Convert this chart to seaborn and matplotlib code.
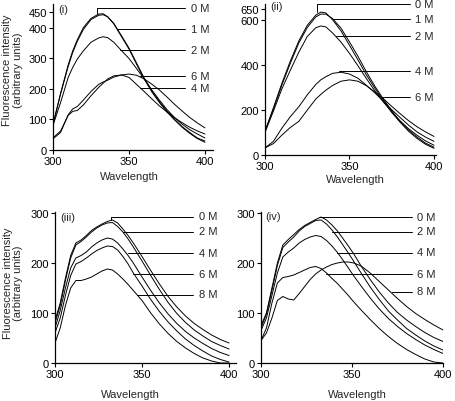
import matplotlib
matplotlib.use("Agg")
import matplotlib.pyplot as plt
import pandas as pd
import seaborn as sns

# panel (i)
wl_i = [300, 305, 310, 313, 316, 320, 325, 330, 333, 336, 340, 345, 350, 355, 360, 365, 370, 375, 380, 385, 390, 395, 400]
i_0M = [82, 185, 278, 324, 360, 400, 430, 444, 445, 435, 412, 371, 330, 280, 232, 190, 155, 124, 98, 74, 54, 37, 25]
i_1M = [84, 183, 273, 319, 355, 394, 426, 440, 442, 435, 414, 374, 333, 284, 235, 194, 158, 127, 100, 76, 57, 39, 29]
i_2M = [80, 155, 237, 270, 297, 324, 352, 366, 370, 367, 352, 325, 299, 266, 232, 196, 163, 132, 106, 84, 66, 52, 39]
i_4M = [39, 62, 113, 126, 129, 147, 177, 204, 218, 232, 242, 245, 237, 214, 191, 167, 144, 124, 105, 89, 74, 62, 52]
i_6M = [36, 57, 115, 134, 142, 163, 191, 214, 222, 228, 238, 245, 248, 244, 232, 215, 196, 173, 149, 127, 106, 88, 72]

# panel (ii)
wl_ii = [300, 305, 310, 315, 320, 325, 330, 333, 336, 340, 345, 350, 355, 360, 365, 370, 375, 380, 385, 390, 395, 400]
ii_0M = [104, 209, 318, 417, 506, 576, 621, 635, 631, 601, 551, 487, 422, 355, 296, 241, 188, 144, 104, 72, 46, 28]
ii_1M = [104, 204, 310, 407, 497, 566, 613, 626, 626, 606, 563, 502, 438, 369, 305, 248, 195, 148, 109, 78, 51, 33]
ii_2M = [99, 194, 293, 376, 456, 526, 565, 573, 569, 542, 501, 451, 396, 339, 284, 235, 190, 150, 115, 86, 61, 42]
ii_4M = [30, 59, 118, 169, 213, 266, 312, 333, 347, 362, 367, 359, 340, 309, 275, 238, 200, 165, 131, 101, 78, 59]
ii_6M = [30, 49, 87, 121, 148, 198, 247, 268, 287, 308, 327, 333, 327, 307, 279, 249, 215, 182, 151, 124, 101, 81]

# panel (iii)
wl_iii = [300, 303, 306, 309, 312, 315, 318, 321, 324, 327, 330, 333, 336, 339, 342, 345, 350, 355, 360, 365, 370, 375, 380, 385, 390, 395, 400]
iii_0M = [85, 120, 170, 215, 240, 246, 255, 265, 272, 278, 283, 286, 280, 268, 255, 240, 213, 185, 158, 133, 112, 94, 79, 67, 56, 47, 40]
iii_2M = [80, 115, 165, 210, 236, 243, 252, 262, 270, 276, 280, 281, 273, 262, 248, 232, 204, 175, 147, 121, 99, 81, 66, 54, 43, 35, 28]
iii_4M = [70, 105, 150, 190, 210, 215, 222, 232, 240, 246, 250, 248, 240, 228, 215, 200, 172, 145, 120, 98, 79, 63, 50, 39, 29, 21, 15]
iii_6M = [60, 90, 135, 175, 198, 203, 210, 218, 225, 230, 234, 233, 226, 213, 198, 180, 154, 127, 103, 82, 64, 48, 35, 24, 14, 7, 2]
iii_8M = [40, 70, 115, 150, 165, 165, 168, 172, 178, 184, 188, 186, 178, 168, 157, 145, 125, 100, 78, 59, 43, 30, 19, 10, 4, 0, 0]

# panel (iv)
wl_iv = [300, 303, 306, 309, 312, 315, 318, 321, 324, 327, 330, 333, 336, 339, 342, 345, 348, 351, 355, 360, 365, 370, 375, 380, 385, 390, 395, 400]
iv_0M = [75, 100, 150, 200, 236, 247, 257, 267, 275, 281, 287, 292, 286, 276, 264, 249, 234, 218, 194, 167, 142, 120, 101, 86, 73, 61, 51, 43]
iv_2M = [70, 98, 145, 195, 231, 242, 252, 264, 273, 279, 285, 286, 278, 266, 252, 236, 220, 203, 180, 152, 127, 104, 86, 69, 56, 44, 34, 26]
iv_4M = [65, 90, 135, 180, 212, 222, 230, 240, 247, 252, 255, 253, 245, 234, 221, 206, 190, 174, 154, 130, 108, 89, 73, 59, 47, 36, 27, 19]
iv_6M = [45, 70, 120, 160, 171, 173, 176, 181, 186, 191, 193, 189, 180, 169, 159, 147, 135, 122, 106, 87, 69, 53, 39, 27, 17, 8, 2, 0]
iv_8M = [45, 60, 90, 125, 133, 128, 126, 139, 153, 167, 178, 186, 192, 197, 200, 202, 202, 200, 194, 180, 163, 146, 129, 113, 99, 87, 76, 66]

# curve labels: name, x where the leader line leaves the curve, curve y there, label y
lab_i = ["0 M", "1 M", "2 M", "6 M", "4 M"]
lab_i_x = [329, 342, 344, 357, 357]
lab_i_y0 = [444, 396, 328, 241, 201]
lab_i_y = [464, 396, 328, 241, 201]

lab_ii = ["0 M", "1 M", "2 M", "4 M", "6 M"]
lab_ii_x = [331, 340, 342, 344, 369]
lab_ii_y0 = [634, 604, 530, 371, 258]
lab_ii_y = [671, 604, 530, 371, 258]

lab_iii = ["0 M", "2 M", "4 M", "6 M", "8 M"]
lab_iii_x = [332, 339, 342, 345, 347]
lab_iii_y0 = [286, 263, 220, 178, 137]
lab_iii_y = [293, 263, 220, 178, 137]

lab_iv = ["0 M", "2 M", "4 M", "6 M", "8 M"]
lab_iv_x = [332, 339, 341.5, 335.5, 372]
lab_iv_y0 = [292, 263, 221, 178, 143]
lab_iv_y = [292, 263, 221, 178, 143]

W, H = 455, 402
FS = 8

sns.set_style("ticks")
plt.rcParams["font.family"] = ["Liberation Sans", "DejaVu Sans"]
plt.rcParams["font.size"] = FS

fig = plt.figure(figsize=(W / 100, H / 100), dpi=100)


def rect(left, right, top, bottom):
    # pixel box -> figure fraction
    return [left / W, 1 - bottom / H, (right - left) / W, (bottom - top) / H]


panels = [
    dict(tag="(i)", wl=wl_i, curves=dict(zip(["0 M", "1 M", "2 M", "4 M", "6 M"], [i_0M, i_1M, i_2M, i_4M, i_6M])),
         labs=(lab_i, lab_i_x, lab_i_y0, lab_i_y), box=(53, 213, 5, 150.9), xlim=405.3, ylim=477,
         yticks=[0, 100, 200, 300, 400, 450], line_end=387, text_x=391,
         tag_pos=(0.035, 0.965), xlab=(0.48, -0.145), ylab=(-0.19, 0.55)),
    dict(tag="(ii)", wl=wl_ii, curves=dict(zip(["0 M", "1 M", "2 M", "4 M", "6 M"], [ii_0M, ii_1M, ii_2M, ii_4M, ii_6M])),
         labs=(lab_ii, lab_ii_x, lab_ii_y0, lab_ii_y), box=(265, 436, 5, 155.6), xlim=401.2, ylim=671,
         yticks=[0, 200, 400, 600, 650], line_end=386, text_x=389,
         tag_pos=(0.03, 0.985), xlab=(0.526, -0.129), ylab=None),
    dict(tag="(iii)", wl=wl_iii, curves=dict(zip(lab_iii, [iii_0M, iii_2M, iii_4M, iii_6M, iii_8M])),
         labs=(lab_iii, lab_iii_x, lab_iii_y0, lab_iii_y), box=(55, 236, 212.7, 364), xlim=404, ylim=302.6,
         yticks=[0, 100, 200, 300], line_end=379.5, text_x=383,
         tag_pos=(0.028, 0.965), xlab=(0.414, -0.172), ylab=(-0.175, 0.535)),
    dict(tag="(iv)", wl=wl_iv, curves=dict(zip(lab_iv, [iv_0M, iv_2M, iv_4M, iv_6M, iv_8M])),
         labs=(lab_iv, lab_iv_x, lab_iv_y0, lab_iv_y), box=(261, 443, 212.7, 364), xlim=400, ylim=302.6,
         yticks=[0, 100, 200, 300], line_end=382.7, text_x=385.5,
         tag_pos=(0.022, 0.973), xlab=(0.527, -0.172), ylab=None),
]

for p in panels:
    ax = fig.add_axes(rect(*p["box"]))
    df = pd.concat([pd.DataFrame({"Wavelength": p["wl"], "Intensity": v, "conc": k})
                    for k, v in p["curves"].items()])
    sns.lineplot(data=df, x="Wavelength", y="Intensity", hue="conc",
                 palette=["black"] * len(p["curves"]), estimator=None,
                 legend=False, linewidth=0.7, ax=ax)

    # leader lines to the concentration labels
    names, xs, y0s, ys = p["labs"]
    for name, x0, y0, y1 in zip(names, xs, y0s, ys):
        ax.plot([x0, x0, p["line_end"]], [y0, y1, y1], color="black", lw=0.7, clip_on=False)
        ax.text(p["text_x"], y1, name, va="center", ha="left", fontsize=FS, clip_on=False)

    ax.set_xlim(300, p["xlim"])
    ax.set_ylim(0, p["ylim"])
    ax.set_xticks([300, 350, 400])
    ax.set_yticks(p["yticks"])
    ax.tick_params(direction="out", length=3, width=0.8, pad=1.5, labelsize=FS, colors="black")
    sns.despine(ax=ax)
    for s in ["left", "bottom"]:
        ax.spines[s].set_linewidth(0.9)
        ax.spines[s].set_color("black")

    ax.text(p["tag_pos"][0], p["tag_pos"][1], p["tag"], transform=ax.transAxes,
            va="center", ha="left", fontsize=FS)

    ax.set_xlabel("Wavelength", fontsize=FS)
    ax.xaxis.set_label_coords(*p["xlab"])
    if p["ylab"] is not None:
        ax.set_ylabel("Fluorescence intensity\n(arbitrary units)", fontsize=FS, linespacing=1.05)
        ax.yaxis.set_label_coords(*p["ylab"])
    else:
        ax.set_ylabel("")

fig.savefig("out.png", dpi=100, facecolor="white")
